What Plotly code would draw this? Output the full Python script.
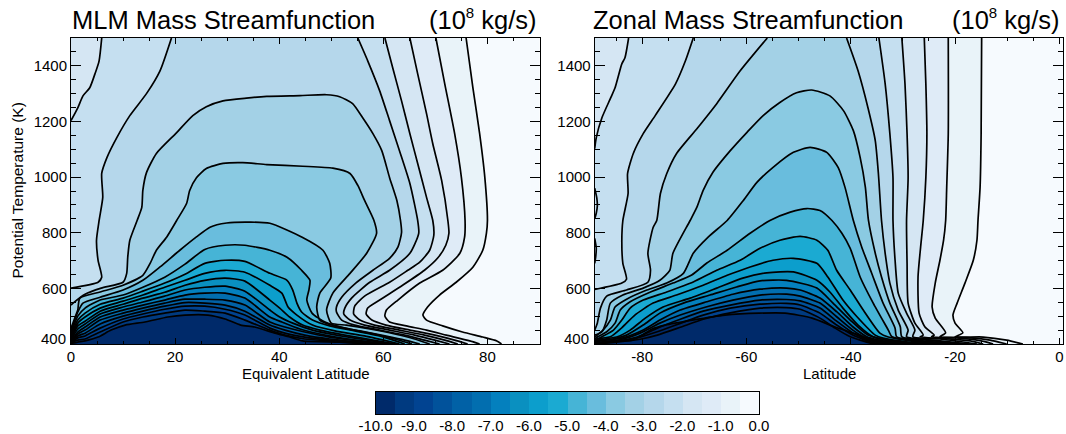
import plotly.graph_objects as go

FONT = "Liberation Sans"

# Colour of each 0.5-wide band, from [-10,-9.5] up to [-0.5,0]
BAND_COLORS = ["#002A6A", "#003A80", "#014391", "#01529B", "#0161A6", "#026EAF", "#0480BE",
               "#0A90C0", "#0C9ECC", "#1BAAD2", "#46B4D6", "#69BDDD", "#8ACAE2", "#A3D1E6",
               "#B5D7EB", "#C5DFF0", "#D5E6F3", "#DFEBF7", "#E9F3F9", "#F6FAFE"]
BAND_MIDS = [-9.75, -9.25, -8.75, -8.25, -7.75, -7.25, -6.75, -6.25, -5.75, -5.25,
             -4.75, -4.25, -3.75, -3.25, -2.75, -2.25, -1.75, -1.25, -0.75, -0.25]
BAR_TICKS = [-10, -9, -8, -7, -6, -5, -4, -3, -2, -1, 0]
BAR_LABELS = ["-10.0", "-9.0", "-8.0", "-7.0", "-6.0", "-5.0", "-4.0", "-3.0", "-2.0", "-1.0", "0.0"]
THETA_TICKS = [600, 800, 1000, 1200, 1400]
MLM_X_TICKS = [0, 20, 40, 60, 80]
ZONAL_X_TICKS = [-80, -60, -40, -20, 0]
ZONAL_X_LABELS = ["-80", "-60", "-40", "-20", "0"]
MLM_RANGE = [0, 90]
ZONAL_RANGE = [-89.1, 0.7]
THETA_RANGE = [400, 1500]

# ---------- MLM panel: contour lines, latitude and potential temperature ----------
M_05_LAT = [75.9, 77.2, 78.5, 79.5, 80.0, 79.8, 79.1, 77.2, 74.0, 70.8, 68.5, 67.6, 68.3, 71.4, 75.2, 79.1, 81.8, 82.7]
M_05_TH = [1500, 1322, 1156, 998, 844, 798, 737, 676, 622, 576, 533, 504, 486, 465, 443, 425, 411, 400]
M_10_LAT = [70.1, 71.8, 73.7, 75, 75.7, 75.6, 74.7, 71.4, 67, 62.8, 60.6, 60.3, 61.2, 64.4, 68.3, 72.1, 76.6, 78.5]
M_10_TH = [1500, 1335, 1156, 998, 844, 783, 726, 665, 619, 558, 522, 500, 479, 465, 450, 432, 411, 400]
M_15_LAT = [65.1, 66.6, 68.3, 69.5, 71.2, 72.4, 72.6, 72.0, 70.4, 67.9, 63.7, 59.3, 57.0, 56.7, 57.8, 60.5, 65.1, 69.9, 73.7, 76.2]
M_15_TH = [1500, 1371, 1228, 1120, 988, 844, 798, 755, 708, 665, 611, 558, 529, 508, 486, 468, 450, 432, 414, 400]
M_20_LAT = [0, 1.3, 2.3, 3.6, 4.6, 5.4, 5.9, None,
            60.3, 61.8, 63.5, 65.1, 66.6, 68.3, 69.5, 69.7, 68.9, 67.0, 64.7, 61.2, 56.4, 54.5, 54.3, 55.5, 58.3, 63.1, 67.9, 71.8, 74.3]
M_20_TH = [1203, 1249, 1292, 1321, 1371, 1418, 1500, None,
           1500, 1393, 1274, 1156, 1049, 927, 844, 791, 737, 694, 665, 622, 572, 536, 508, 486, 468, 450, 432, 414, 400]
M_25_LAT = [0, 5.2, 5.9, 5.2, 4.9, 5.4, 6.1, 5.9, 6.9, 8.8, 11.3, 14.5, 17.1, 19.3, None,
            55.1, 57, 59.3, 61.2, 63.1, 65.1, 66.6, 66.8, 65.1, 61.2, 57.4, 53.9, 52.6, 52.4, 53.6, 56.4, 61.2, 66, 69.9, 72.7]
M_25_TH = [601, 622, 640, 701, 773, 844, 927, 1013, 1070, 1142, 1221, 1300, 1382, 1500, None,
           1500, 1418, 1310, 1203, 1095, 977, 844, 798, 726, 665, 622, 565, 529, 508, 486, 468, 450, 432, 414, 400]
M_30_LAT = [0, .4, 2.7, 5.8, 10, 10.7, 10.9, 11.3, 12.7, 13.6, 13.8, 14.5, 16.4, 20.3, 23.4, 26, 29.2, 33.7, 37.6, 44,
            49.1, 51.6, 54.1, 56, 58, 59.7, 61.2, 62.6, 63.3, 63.5, 62.8, 61.2, 58, 54.7, 52, 51, 51, 52, 54.5, 59.3, 64.1, 67.9, 70.8]
M_30_TH = [540, 547, 579, 601, 622, 654, 712, 773, 844, 891, 952, 1016, 1085, 1160, 1221, 1253, 1274, 1284, 1290, 1293,
           1296, 1289, 1264, 1214, 1156, 1095, 998, 916, 844, 801, 748, 708, 665, 619, 568, 533, 515, 486, 468, 450, 432, 414, 400]
M_35_LAT = [0, .8, 1.3, 1.7, 5.6, 10, 13.8, 15.2, 16.4, 18.4, 20.3, 22.2, 22.8, 24.1, 26, 29.2, 33, 37.6, 44.5, 50.3,
            53.6, 55.1, 56.4, 58.2, 58.7, 56.8, 53.6, 50.3, 49.1, 50, 52.9, 57.4, 62.2, 66, 68.9]
M_35_TH = [457, 497, 522, 565, 587, 611, 647, 690, 737, 785, 844, 905, 952, 998, 1031, 1049, 1052, 1045, 1039, 1032,
           1013, 970, 916, 844, 798, 726, 654, 583, 522, 475, 468, 454, 436, 418, 400]
M_40_LAT = [0, .6, 1.3, 2.3, 5.6, 10, 13.8, 17.1, 20.9, 24.1, 26.7, 29.9, 34.4, 38.2, 44.5, 48.4, 49.7, 49.9, 47.8, 47.2,
            47.8, 50.7, 55.5, 60.3, 64.1, 67]
M_40_TH = [447, 479, 515, 547, 568, 594, 629, 677, 737, 785, 820, 835, 838, 834, 783, 737, 690, 637, 583, 533,
           486, 465, 447, 429, 414, 400]
M_45_LAT = [0, 1.3, 2.7, 5.6, 10, 13.8, 18, 21.9, 25.7, 29.6, 33.4, 38.2, 41.5, 44.3, 45.9, 45.7, 45.3, 46.3, 48.8, 52.6, 57.4, 62.2, 65.5]
M_45_TH = [436, 500, 529, 558, 576, 604, 640, 687, 740, 755, 755, 737, 712, 665, 629, 594, 558, 511, 479, 457, 439, 418, 400]
M_50_LAT = [0, 1.3, 2.7, 5.6, 10, 13.8, 18, 21.9, 25.7, 29.6, 33.4, 38.2, 41.5, 42.6, 43.4, 44.3, 46.4, 49.7, 54.5, 59.3, 64.1]
M_50_TH = [429, 486, 511, 543, 565, 590, 619, 651, 690, 701, 697, 654, 629, 594, 547, 515, 486, 465, 447, 429, 400]
M_55_LAT = [0, 1.3, 2.7, 5.6, 10, 13.8, 18, 21.9, 25.7, 29.6, 33.4, 38.2, 40.5, 41.7, 43.4, 46.4, 50.7, 56.4, 63.1]
M_55_TH = [423, 475, 497, 529, 554, 576, 604, 629, 654, 665, 658, 611, 583, 533, 504, 468, 447, 429, 400]
M_60_LAT = [0, 1.3, 2.7, 5.6, 10, 13.8, 18, 21.9, 25.7, 29.6, 33.4, 38.2, 40.1, 42, 44.5, 47.8, 52.6, 62.4]
M_60_TH = [418, 465, 482, 518, 543, 565, 586, 611, 629, 637, 626, 558, 529, 497, 468, 450, 432, 400]
M_65_LAT = [0, 1.3, 2.7, 5.6, 10, 13.8, 18, 21.9, 25.7, 29.6, 33.4, 38.2, 40.1, 42.6, 46.4, 51, 61.6]
M_65_TH = [414, 454, 472, 508, 533, 551, 572, 594, 604, 608, 590, 522, 497, 475, 450, 432, 400]
M_70_LAT = [0, 1.3, 2.7, 5.6, 10, 13.8, 18, 21.9, 25.7, 29.6, 33.4, 38.2, 40.5, 44, 48.8, 54.5, 61]
M_70_TH = [411, 443, 461, 497, 522, 540, 558, 576, 583, 583, 565, 497, 479, 454, 432, 414, 400]
M_75_LAT = [0, 1.3, 2.7, 5.6, 10, 13.8, 18, 21.9, 25.7, 29.6, 33.4, 38.2, 41.1, 44.9, 49.7, 55.5, 60.5]
M_75_TH = [409, 436, 450, 486, 511, 529, 547, 561, 561, 558, 540, 479, 461, 443, 425, 411, 400]
M_80_LAT = [0, 1.3, 2.7, 5.6, 10, 13.8, 18, 21.9, 25.7, 29.6, 33.4, 38.2, 41.1, 44.9, 49.7, 55.5, 59.9]
M_80_TH = [407, 429, 439, 472, 500, 518, 536, 549, 547, 540, 518, 468, 450, 432, 418, 407, 400]
M_85_LAT = [0, 1.3, 2.7, 5.6, 10, 13.8, 18, 21.9, 25.7, 29.6, 33.4, 38.2, 41.1, 44.9, 49.7, 55.5, 59.3]
M_85_TH = [405, 422, 429, 457, 490, 508, 525, 536, 536, 525, 504, 457, 439, 425, 414, 404, 400]
M_90_LAT = [0, 1.3, 2.7, 5.6, 10, 13.8, 18, 21.9, 25.7, 29.6, 33.4, 38.2, 41.1, 44.9, 49.7, 54.5, 58.5]
M_90_TH = [404, 414, 418, 443, 479, 497, 511, 522, 518, 511, 486, 450, 432, 418, 411, 404, 400]
M_95_LAT = [0, 1.3, 2.7, 5.2, 7.7, 10.4, 14.2, 18.6, 21.9, 26.3, 29.6, 32.6, 35.3, 39.2, 42, 44.5, 51.6, 57.8]
M_95_TH = [402, 407, 411, 425, 450, 468, 479, 497, 504, 504, 490, 468, 461, 439, 425, 411, 407, 400]

# ---------- Zonal panel: contour lines, latitude and potential temperature ----------
Z_05_LAT = [-14.9, -15.0, -15.2, -15.6, -15.8, -16.5, -18.1, -19.6, -20.4, -20.0, -18.5, -20.0, -14.6, -10.1, -7.0]
Z_05_TH = [1500, 1156, 963, 844, 773, 701, 619, 547, 504, 475, 440, 426, 425, 414, 400]
Z_10_LAT = [-21.3, -21.3, -21.6, -21.8, -22.2, -22.9, -23.8, -24.4, -23.8, -21.8, -22.9, -17.8, -13.3, -10.1]
Z_10_TH = [1500, 1156, 963, 844, 773, 701, 619, 533, 493, 440, 426, 423, 414, 400]
Z_15_LAT = [-25.9, -25.6, -25.4, -25.6, -26.1, -26.6, -27.1, -26.9, -25.8, -24.0, -24.5, -19.7, -15.2, -12.7]
Z_15_TH = [1500, 1335, 1156, 998, 844, 749, 641, 511, 462, 432, 426, 422, 412, 400]
Z_20_LAT = [-89.1, -88.8, -87.7, -86.1, -85.2, -83.9, -83.3, -82.6, None,
            -30.2, -29.6, -29.2, -29.0, -29.3, -29.2, -29.0, -27.7, -26.1, -26.7, -21.6, -17.1, -14.6]
Z_20_TH = [1102, 1142, 1214, 1282, 1321, 1407, 1429, 1500, None,
           1500, 1335, 1156, 998, 844, 690, 547, 475, 432, 426, 419, 411, 400]
Z_25_LAT = [-89.1, -83.9, -83.0, -83.7, -83.9, -83.7, -82.7, -82.8, -81.7, -79.8, -77.5, -73.6, -71.7, -70.2, None,
            -34.6, -33.4, -32.5, -31.9, -31.9, -31.5, -30.9, -29.3, -27.7, -28.1, -22.9, -15.8]
Z_25_TH = [596, 619, 633, 690, 773, 844, 941, 1012, 1085, 1156, 1221, 1335, 1418, 1500, None,
           1500, 1335, 1156, 998, 844, 701, 583, 511, 450, 426, 418, 400]
Z_30_LAT = [-89.1, -88.6, -88.0, -86.8, -83.0, -78.9, -78.4, -78.9, -77.9, -77.2, -76.5, -75.3, -73.4, -69.5, -65.7, -61.2, -56.0, None,
            -40.8, -38.6, -36.7, -35.3, -34.7, -34.1, -33.4, -32.5, -30.9, -29.0, -29.3, -24.2, -17.1]
Z_30_TH = [450, 475, 529, 572, 594, 622, 665, 726, 819, 844, 941, 1012, 1085, 1174, 1264, 1382, 1500, None,
           1500, 1382, 1249, 1131, 1013, 844, 726, 619, 522, 450, 426, 414, 400]
Z_35_LAT = [-89.1, -87.7, -86.8, -86.1, -83.7, -79.8, -76.6, -74.7, -74.1, -70.8, -69.5, -68.3, -66.4, -63.1, -59.9, -56.8,
            -53.6, -50.4, -47.5, -44.0, -41.4, -39.5, -38.2, -37.2, -36.6, -35.3, -34.1, -32.5, -30.5, -30.2, -25.4, -18.5]
Z_35_TH = [432, 444, 486, 547, 576, 601, 629, 665, 726, 844, 892, 952, 1018, 1095, 1161, 1221,
           1268, 1303, 1313, 1292, 1239, 1167, 1071, 964, 844, 726, 641, 547, 462, 426, 414, 400]
Z_40_LAT = [-89.1, -87.5, -86.1, -85.2, -82.9, -79.1, -75.3, -72.1, -70.2, -67.3, -63.7, -60.6, -58.0, -54.9, -51.0, -47.8,
            -44.6, -42.4, -41.1, -39.5, -37.9, -36.0, -33.8, -31.5, -31.2, -26.7, -19.7]
Z_40_TH = [425, 450, 486, 533, 562, 594, 619, 654, 726, 785, 844, 916, 981, 1035, 1089, 1107,
           1089, 1034, 963, 844, 749, 655, 547, 457, 426, 412, 400]
Z_45_LAT = [-89.1, -88.5, -86.8, -85.2, -84.2, -82.3, -78.4, -74.1, -70.5, -67.6, -63.7, -59.3, -55.5, -51.6, -48.4, -45.9,
            -43.6, -41.7, -40.1, -38.2, -35.7, -32.8, -32.1, -27.7, -21.0]
Z_45_TH = [418, 426, 444, 475, 522, 552, 587, 619, 648, 691, 737, 798, 844, 874, 887, 880,
           844, 798, 744, 641, 547, 450, 426, 411, 400]
Z_50_LAT = [-89.1, -87.7, -85.5, -83.9, -82.3, -79.8, -75.3, -70.2, -65.7, -61.2, -57.4, -53.6, -49.7, -46.5, -44.4, -42.7,
            -40.1, -37.6, -34.4, -32.8, -28.6, -22.3]
Z_50_TH = [412, 426, 450, 486, 529, 558, 587, 623, 665, 701, 744, 773, 787, 773, 737, 665,
           594, 522, 439, 425, 411, 400]
Z_55_LAT = [-89.1, -88.7, -86.1, -83.7, -81.4, -77.9, -73.4, -68.3, -63.7, -59.3, -54.9, -51.0, -46.5, -44.4, -41.5, -38.8, -35.3, -33.8, -29.3, -23.5]
Z_55_TH = [411, 418, 426, 462, 504, 547, 576, 611, 647, 677, 701, 708, 690, 641, 558, 498, 432, 421, 408, 400]
Z_60_LAT = [-89.1, -88.5, -84.9, -82.3, -79.4, -76.0, -70.8, -65.7, -60.7, -56.1, -51.0, -46.5, -44.0, -41.5, -38.6, -35.7, -30.5, -24.8]
Z_60_TH = [409, 414, 425, 450, 493, 533, 565, 601, 637, 656, 659, 629, 587, 529, 468, 426, 407, 400]
Z_65_LAT = [-89.1, -88.5, -85.6, -83.0, -79.8, -76.6, -72.1, -67.0, -61.9, -57.4, -52.3, -46.5, -43.4, -40.1, -36.7, -31.5, -26.1]
Z_65_TH = [407, 412, 418, 432, 468, 511, 547, 576, 605, 627, 629, 601, 547, 486, 432, 407, 400]
Z_70_LAT = [-89.1, -88.1, -83.7, -79.8, -76.6, -72.7, -67.6, -62.6, -57.4, -52.3, -49.7, -45.9, -42.7, -39.6, -36.9, -32.5, -27.3]
Z_70_TH = [406, 411, 422, 450, 486, 522, 552, 579, 597, 601, 594, 565, 516, 462, 426, 406, 400]
Z_75_LAT = [-89.1, -88.1, -83.9, -80.4, -76.6, -72.7, -67.6, -62.6, -57.4, -52.3, -49.7, -45.9, -42.7, -39.6, -37.3, -33.4, -28.6]
Z_75_TH = [405, 407, 417, 439, 475, 504, 534, 558, 576, 579, 572, 547, 498, 450, 424, 405, 400]
Z_80_LAT = [-89.1, -87.7, -84.2, -80.8, -77.1, -72.7, -68.3, -63.1, -57.4, -52.3, -49.7, -45.9, -42.7, -39.6, -37.7, -34.4, -30.0]
Z_80_TH = [404, 405, 412, 426, 457, 489, 518, 540, 558, 560, 555, 529, 482, 440, 422, 404, 400]
Z_85_LAT = [-89.1, -87.7, -84.6, -80.4, -77.1, -72.7, -68.3, -63.1, -57.4, -52.3, -49.7, -45.9, -42.7, -39.6, -37.9, -35.3, -31.2]
Z_85_TH = [403, 404, 410, 425, 444, 474, 504, 529, 543, 546, 540, 511, 468, 432, 419, 403, 400]
Z_90_LAT = [-89.1, -87.5, -84.9, -80.4, -77.1, -72.7, -68.3, -63.1, -57.4, -52.3, -49.7, -45.9, -43.0, -40.1, -38.2, -35.7, -32.5]
Z_90_TH = [403, 403, 407, 417, 432, 460, 489, 512, 529, 531, 525, 493, 457, 426, 414, 401, 400]
Z_95_LAT = [-89.1, -85.2, -81.9, -80.0, -78.1, -75.6, -70.4, -64.1, -57.6, -52.6, -47.4, -43.0, -38.4, -35.3, -30.2, -29.6]
Z_95_TH = [402, 411, 414, 432, 454, 468, 486, 504, 511, 511, 493, 461, 432, 411, 407, 400]
# short wiggles of a contour that touches the left edge
Z_EDGE_LAT = [-89.1, -88.7, -88.6, -88.8, -89.1, None, -89.1, -88.8, -88.9, -89.1]
Z_EDGE_TH = [960, 925, 895, 870, 850, None, 780, 745, 715, 690]

LEVELS = [-0.5, -1.0, -1.5, -2.0, -2.5, -3.0, -3.5, -4.0, -4.5, -5.0, -5.5, -6.0, -6.5, -7.0, -7.5, -8.0, -8.5, -9.0, -9.5]
MLM_LINES = [(M_05_LAT, M_05_TH), (M_10_LAT, M_10_TH), (M_15_LAT, M_15_TH), (M_20_LAT, M_20_TH), (M_25_LAT, M_25_TH),
             (M_30_LAT, M_30_TH), (M_35_LAT, M_35_TH), (M_40_LAT, M_40_TH), (M_45_LAT, M_45_TH), (M_50_LAT, M_50_TH),
             (M_55_LAT, M_55_TH), (M_60_LAT, M_60_TH), (M_65_LAT, M_65_TH), (M_70_LAT, M_70_TH), (M_75_LAT, M_75_TH),
             (M_80_LAT, M_80_TH), (M_85_LAT, M_85_TH), (M_90_LAT, M_90_TH), (M_95_LAT, M_95_TH)]
ZONAL_LINES = [(Z_05_LAT, Z_05_TH), (Z_10_LAT, Z_10_TH), (Z_15_LAT, Z_15_TH), (Z_20_LAT, Z_20_TH), (Z_25_LAT, Z_25_TH),
               (Z_30_LAT, Z_30_TH), (Z_35_LAT, Z_35_TH), (Z_40_LAT, Z_40_TH), (Z_45_LAT, Z_45_TH), (Z_50_LAT, Z_50_TH),
               (Z_55_LAT, Z_55_TH), (Z_60_LAT, Z_60_TH), (Z_65_LAT, Z_65_TH), (Z_70_LAT, Z_70_TH), (Z_75_LAT, Z_75_TH),
               (Z_80_LAT, Z_80_TH), (Z_85_LAT, Z_85_TH), (Z_90_LAT, Z_90_TH), (Z_95_LAT, Z_95_TH)]

W, H = 1066, 434
fig = go.Figure()
CONTOUR_LINE = dict(color="black", width=1.7, shape="spline", smoothing=0.6)


def add_panel(lines, xmin, xref, yref):
    for i, (lat, th) in enumerate(lines):
        assert len(lat) == len(th), (xref, LEVELS[i], len(lat), len(th))
        px = [v for v in lat if v is not None]
        py = [v for v in th if v is not None]
        corner_x = [xmin, xmin] if py[0] >= THETA_RANGE[1] else [xmin]
        corner_y = [THETA_RANGE[0], THETA_RANGE[1]] if py[0] >= THETA_RANGE[1] else [THETA_RANGE[0]]
        # the region at or below this level gets the colour of the band just under it
        color = BAND_COLORS[18 - i]
        fig.add_trace(go.Scatter(x=corner_x + px, y=corner_y + py, mode="lines", fill="toself",
                                 fillcolor=color, line=dict(width=0), hoverinfo="skip",
                                 showlegend=False, xaxis=xref, yaxis=yref))
    for i, (lat, th) in enumerate(lines):
        fig.add_trace(go.Scatter(x=lat, y=th, mode="lines", line=CONTOUR_LINE,
                                 name=f"{LEVELS[i]}", showlegend=False, xaxis=xref, yaxis=yref))


add_panel(MLM_LINES, MLM_RANGE[0], "x", "y")
add_panel(ZONAL_LINES, ZONAL_RANGE[0], "x2", "y2")
fig.add_trace(go.Scatter(x=Z_EDGE_LAT, y=Z_EDGE_TH, mode="lines", line=CONTOUR_LINE,
                         showlegend=False, xaxis="x2", yaxis="y2"))

scale = []
for i, c in enumerate(BAND_COLORS):
    scale += [[i / 20, c], [(i + 1) / 20, c]]
fig.add_trace(go.Heatmap(x=BAND_MIDS, y=[0], z=[BAND_MIDS], zmin=-10, zmax=0, colorscale=scale,
                         showscale=False, xaxis="x3", yaxis="y3", hoverinfo="skip"))

tick_font = dict(family=FONT, size=15, color="black")


def x_axis(domain, rng, vals, text, anchor):
    return dict(domain=domain, range=rng, anchor=anchor, tickmode="array", tickvals=vals, ticktext=text,
                ticks="inside", ticklen=6, tickwidth=1, tickcolor="black", mirror="ticks", automargin=False,
                showline=True, linecolor="black", linewidth=1, showgrid=False, zeroline=False,
                tickfont=tick_font, tickangle=0, ticklabelstandoff=-1,
                minor=dict(ticks="inside", ticklen=3, tickwidth=1, tickcolor="black", dtick=5, tick0=0, showgrid=False))


def y_axis(domain, anchor):
    return dict(domain=domain, range=THETA_RANGE, anchor=anchor, tickmode="array", tickvals=THETA_TICKS,
                ticktext=[str(v) for v in THETA_TICKS], ticks="inside", ticklen=10, tickwidth=1,
                tickcolor="black", mirror="ticks", showline=True, linecolor="black", linewidth=1, automargin=False,
                showgrid=False, zeroline=False, tickfont=tick_font,
                minor=dict(ticks="inside", ticklen=5, tickwidth=1, tickcolor="black", dtick=50, tick0=0, showgrid=False))


def paper_text(text, px, py, xanchor, yanchor, size, angle=0):
    return dict(text=text, x=px / W, y=(H - py) / H, xref="paper", yref="paper", xanchor=xanchor, yanchor=yanchor,
                textangle=angle, showarrow=False, font=dict(family=FONT, size=size, color="black"))


UNIT_TEXT = '(10<sup><span style="font-size:15px">8</span></sup> kg/s)'
ydom = [(H - 344) / H, (H - 38) / H]
fig.update_layout(
    template="none",
    width=W, height=H, autosize=False, margin=dict(l=0, r=0, t=0, b=0),
    paper_bgcolor="white", plot_bgcolor=BAND_COLORS[19], showlegend=False,
    font=dict(family=FONT, color="black"),
    xaxis=x_axis([71 / W, 539.5 / W], MLM_RANGE, MLM_X_TICKS, [str(v) for v in MLM_X_TICKS], "y"),
    yaxis=y_axis(ydom, "x"),
    xaxis2=x_axis([594.7 / W, 1063 / W], ZONAL_RANGE, ZONAL_X_TICKS, ZONAL_X_LABELS, "y2"),
    yaxis2=y_axis(ydom, "x2"),
    xaxis3=dict(domain=[375.5 / W, 759 / W], range=[-10, 0], anchor="y3", tickmode="array", tickvals=BAR_TICKS,
                ticktext=BAR_LABELS, ticks="", showline=True, mirror=True, linecolor="black", linewidth=1,
                showgrid=False, zeroline=False, tickfont=tick_font, tickangle=0, automargin=False,
                ticklabelstandoff=-2),
    yaxis3=dict(domain=[(H - 414) / H, (H - 391.5) / H], range=[-0.5, 0.5], anchor="x3", showticklabels=False,
                ticks="", showline=True, mirror=True, linecolor="black", linewidth=1, showgrid=False,
                zeroline=False, automargin=False),
    annotations=[
        paper_text("MLM Mass Streamfunction", 70, 36, "left", "bottom", 25.5),
        paper_text(UNIT_TEXT, 539, 36, "right", "bottom", 25.5),
        paper_text("Zonal Mass Streamfunction", 591, 36, "left", "bottom", 25.5),
        paper_text(UNIT_TEXT, 1062, 36, "right", "bottom", 25.5),
        paper_text("400", 68, 338, "right", "middle", 15),
        paper_text("400", 591, 338, "right", "middle", 15),
        paper_text("Equivalent Latitude", 305.5, 374, "center", "middle", 15),
        paper_text("Latitude", 829, 374, "center", "middle", 15),
        paper_text("Potential Temperature (K)", 17, 190.5, "center", "middle", 15.5, -90),
    ],
)

fig.write_html("out.html", config=dict(displayModeBar=False),
               post_script="document.body.style.margin='0';")
